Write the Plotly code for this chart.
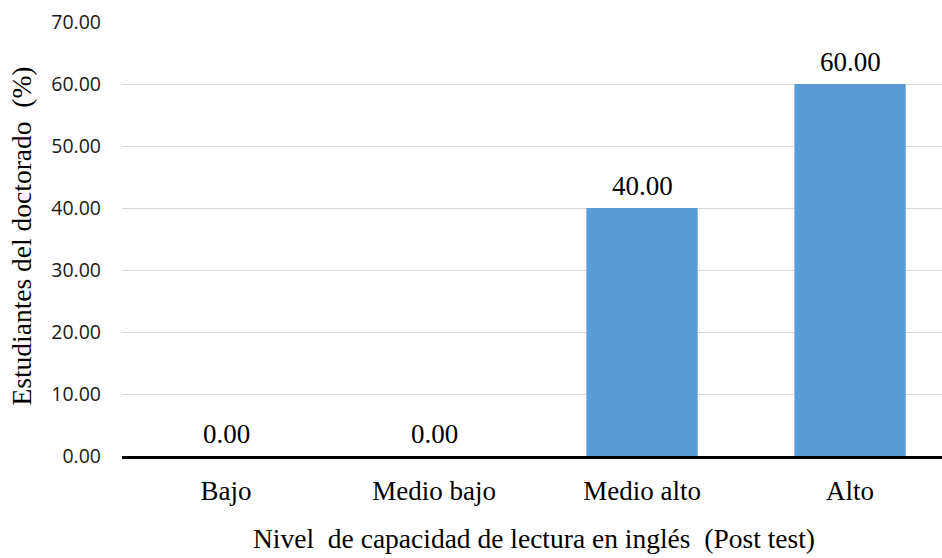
import plotly.graph_objects as go

categories = ["Bajo", "Medio bajo", "Medio alto", "Alto"]
values = [0.00, 0.00, 40.00, 60.00]
y_ticks = [0, 10, 20, 30, 40, 50, 60, 70]
x_title = "Nivel\u00a0 de capacidad de lectura en inglés\u00a0 (Post test)"
y_title = "Estudiantes del doctorado\u00a0 (%)"

serif = "Liberation Serif, Times New Roman, serif"
sans = "Open Sans, Liberation Sans, sans-serif"

fig = go.Figure()
fig.add_trace(go.Bar(
    x=categories, y=values,
    marker=dict(color="#5B9BD5", line=dict(width=0)),
    width=0.535,
    hoverinfo="x+y",
))

for c, v in zip(categories, values):
    fig.add_annotation(
        x=c, y=v, xref="x", yref="y",
        text=f"{v:.2f}", showarrow=False,
        yanchor="bottom", yshift=5,
        font=dict(family=serif, size=27, color="#000000"),
    )

fig.add_annotation(
    x=0.502, y=-0.19, xref="paper", yref="paper",
    text=x_title, showarrow=False, xanchor="center", yanchor="middle",
    font=dict(family=serif, size=27.5, color="#000000"),
)
fig.add_annotation(
    x=-0.123, y=0.506, xref="paper", yref="paper",
    text=y_title, showarrow=False, textangle=-90,
    xanchor="center", yanchor="middle",
    font=dict(family=serif, size=27.5, color="#000000"),
)

fig.update_layout(
    width=942, height=558,
    margin=dict(l=122, r=0, t=22, b=102),
    paper_bgcolor="white", plot_bgcolor="white",
    showlegend=False,
)
fig.update_xaxes(
    range=[-0.5, 3.442],
    showline=True, linecolor="#000000", linewidth=2.5,
    showgrid=False, ticks="", ticklabelstandoff=9,
    tickfont=dict(family=serif, size=27, color="#000000"),
    fixedrange=True,
)
fig.update_yaxes(
    range=[0, 70], tickvals=y_ticks,
    ticktext=[f"{t:.2f}" for t in y_ticks],
    showgrid=True, gridcolor="#D9D9D9", gridwidth=1.3,
    zeroline=False, showline=False, ticks="",
    ticklabelstandoff=20,
    tickfont=dict(family=sans, size=19.5, color="#1a1a1a"),
    fixedrange=True,
)

fig.write_html(
    "out.html",
    config={"displayModeBar": False},
    post_script="document.body.style.margin='0';document.body.style.overflow='hidden';",
)
